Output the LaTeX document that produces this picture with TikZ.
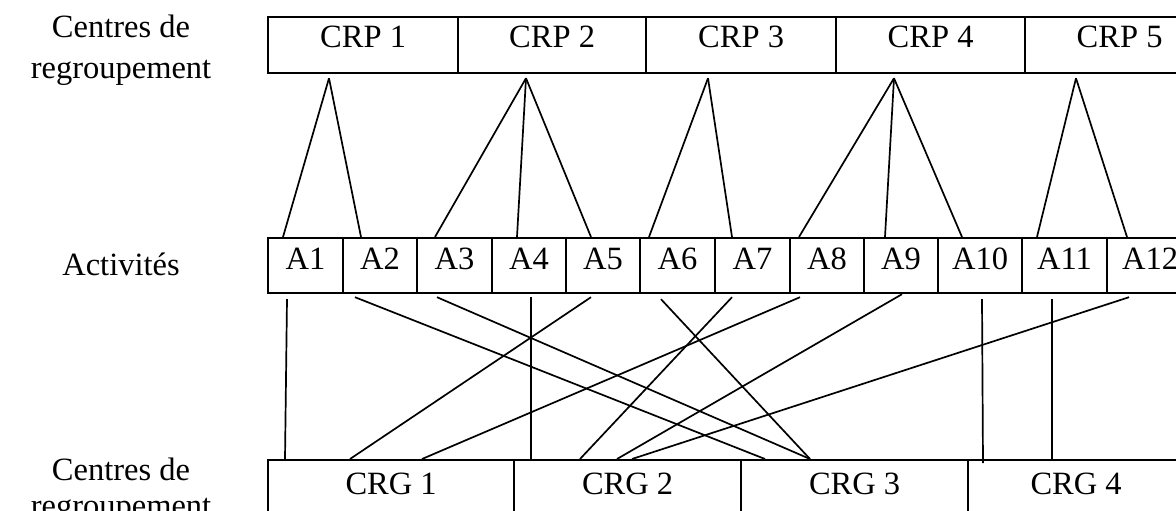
\documentclass[tikz,border=0pt]{standalone}
\usepackage{fontspec}
\setmainfont{Liberation Serif}
\begin{document}
\begin{tikzpicture}[x=1pt,y=-1pt,
  cell/.style={draw,line width=2.2pt,inner sep=0pt,anchor=north west,
    text height=21pt,font=\fontsize{32.5}{41}\selectfont},
  crpcell/.style={cell,minimum height=56pt,text depth=17pt},
  actcell/.style={cell,minimum height=55pt,text depth=13pt},
  crgcell/.style={cell,minimum height=60pt,text depth=12pt},
  rowlabel/.style={align=center,inner sep=0pt,font=\fontsize{32.5}{41}\selectfont},
  link/.style={line width=1.7pt}]
\path[use as bounding box] (0,0) rectangle (1176,511);
\clip (0,0) rectangle (1176,511);

% row labels (anchored on the baseline of their last line)
\node[rowlabel,anchor=base] (lbltop) at (121,78) {Centres de\\regroupement};
\node[rowlabel,anchor=base] (lblact) at (121,275) {Activités};
\node[rowlabel,anchor=base,font=\fontsize{32.5}{36}\selectfont] (lblbot) at (121,516) {Centres de\\regroupement};

% CRP row
\node[crpcell,minimum width=190pt] (crp1) at (267,16) {CRP 1};
\node[crpcell,minimum width=188pt] (crp2) at (457,16) {CRP 2};
\node[crpcell,minimum width=190pt] (crp3) at (645,16) {CRP 3};
\node[crpcell,minimum width=189pt] (crp4) at (835,16) {CRP 4};
\node[crpcell,minimum width=189pt] (crp5) at (1024,16) {CRP 5};

% activity row
\node[actcell,minimum width=75pt] (a1) at (267,237) {A1};
\node[actcell,minimum width=74pt] (a2) at (342,237) {A2};
\node[actcell,minimum width=75pt] (a3) at (416,237) {A3};
\node[actcell,minimum width=74pt] (a4) at (491,237) {A4};
\node[actcell,minimum width=74pt] (a5) at (565,237) {A5};
\node[actcell,minimum width=75pt] (a6) at (639,237) {A6};
\node[actcell,minimum width=75pt] (a7) at (714,237) {A7};
\node[actcell,minimum width=74pt] (a8) at (789,237) {A8};
\node[actcell,minimum width=74pt] (a9) at (863,237) {A9};
\node[actcell,minimum width=84pt] (a10) at (937,237) {A10};
\node[actcell,minimum width=85pt] (a11) at (1021,237) {A11};
\node[actcell,minimum width=86pt] (a12) at (1106,237) {A12};

% CRG row
\node[crgcell,minimum width=246pt] (crg1) at (267,459) {CRG 1};
\node[crgcell,minimum width=227pt] (crg2) at (513,459) {CRG 2};
\node[crgcell,minimum width=227pt] (crg3) at (740,459) {CRG 3};
\node[crgcell,minimum width=216pt] (crg4) at (967,459) {CRG 4};

% apexes below the CRP cells
\coordinate (p1) at ([xshift=62pt,yshift=-4pt]crp1.south west);
\coordinate (p2) at ([xshift=69pt,yshift=-4pt]crp2.south west);
\coordinate (p3) at ([xshift=63pt,yshift=-4pt]crp3.south west);
\coordinate (p4) at ([xshift=59pt,yshift=-4pt]crp4.south west);
\coordinate (p5) at ([xshift=52pt,yshift=-4pt]crp5.south west);

% CRP -> activities
\draw[link] (p1) -- ([xshift=16pt]a1.north west);
\draw[link] (p1) -- ([xshift=19pt]a2.north west);
\draw[link] (p2) -- ([xshift=19pt]a3.north west);
\draw[link] (p2) -- ([xshift=26pt]a4.north west);
\draw[link] (p2) -- ([xshift=26pt]a5.north west);
\draw[link] (p3) -- ([xshift=10pt]a6.north west);
\draw[link] (p3) -- ([xshift=18pt]a7.north west);
\draw[link] (p4) -- ([xshift=10pt]a8.north west);
\draw[link] (p4) -- ([xshift=22pt]a9.north west);
\draw[link] (p4) -- ([xshift=25pt]a10.north west);
\draw[link] (p5) -- ([xshift=16pt]a11.north west);
\draw[link] (p5) -- ([xshift=21pt]a12.north west);

% activities -> CRG
\draw[link] ([xshift=20pt,yshift=-5pt]a1.south west) -- ([xshift=18pt]crg1.north west);
\draw[link] ([xshift=13pt,yshift=-3pt]a2.south west) -- ([xshift=25pt]crg3.north west);
\draw[link] ([xshift=21pt,yshift=-3pt]a3.south west) -- ([xshift=70pt]crg3.north west);
\draw[link] ([xshift=40pt,yshift=-3pt]a4.south west) -- ([xshift=18pt]crg2.north west);
\draw[link] ([xshift=26pt,yshift=-3pt]a5.south west) -- ([xshift=83pt]crg1.north west);
\draw[link] ([xshift=22pt,yshift=-5pt]a6.south west) -- ([xshift=70pt]crg3.north west);
\draw[link] ([xshift=18pt,yshift=-3pt]a7.south west) -- ([xshift=67pt]crg2.north west);
\draw[link] ([xshift=11pt,yshift=-3pt]a8.south west) -- ([xshift=155pt]crg1.north west);
\draw[link] ([xshift=39pt]a9.south west) -- ([xshift=104pt]crg2.north west);
\draw[link] ([xshift=45pt,yshift=-5pt]a10.south west) -- ([xshift=16pt,yshift=-4pt]crg4.north west);
\draw[link] ([xshift=31pt,yshift=-5pt]a11.south west) -- ([xshift=85pt,yshift=-2pt]crg4.north west);
\draw[link] ([xshift=23pt,yshift=-3pt]a12.south west) -- ([xshift=119pt]crg2.north west);
\end{tikzpicture}
\end{document}
